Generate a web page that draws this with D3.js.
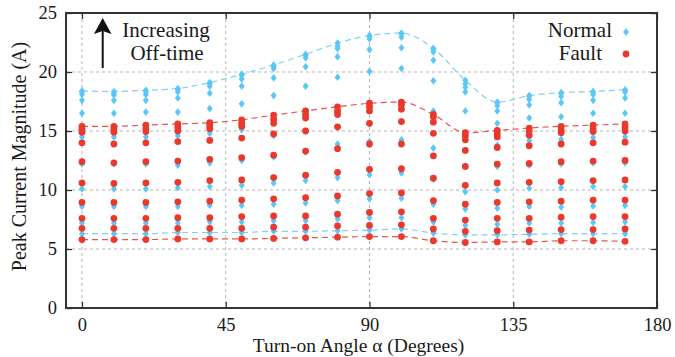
<!DOCTYPE html>
<html>
<head>
<meta charset="utf-8">
<script src="https://cdn.jsdelivr.net/npm/d3@7"></script>
<style>
  html, body { margin: 0; padding: 0; background: #fff; }
  svg { display: block; }
  text { font-family: "Liberation Serif", "Times New Roman", serif; fill: #1a1a1a; }
</style>
</head>
<body>
<svg id="chart" width="675" height="357"></svg>
<script>
// ---- Data ----
const angles = [0, 10, 20, 30, 40, 50, 60, 70, 80, 90, 100, 110, 120, 130, 140, 150, 160, 170];

const normalValues = [
  [18.4, 18.3, 18.1, 17.6, 16.5, 14.5, 12.2, 10.1, 8.6, 7.2, 6.3],
  [18.35, 18.2, 18.05, 17.6, 16.5, 14.5, 12.2, 10.1, 8.6, 7.2, 6.3],
  [18.45, 18.3, 18.1, 17.6, 16.6, 14.5, 12.2, 10.1, 8.6, 7.2, 6.3],
  [18.6, 18.5, 18.3, 17.8, 16.6, 14.6, 12.1, 10.2, 8.6, 7.2, 6.4],
  [19.1, 19.0, 18.8, 18.2, 16.9, 14.8, 12.3, 10.3, 8.7, 7.3, 6.4],
  [19.8, 19.7, 19.4, 18.8, 17.3, 15.1, 12.5, 10.4, 8.7, 7.3, 6.4],
  [20.6, 20.5, 20.3, 19.5, 18.0, 14.6, 12.8, 10.6, 8.8, 7.4, 6.5],
  [21.5, 21.4, 21.2, 20.45, 18.8, 15.0, 13.2, 10.8, 8.9, 7.4, 6.5],
  [22.45, 22.2, 22.0, 21.3, 19.55, 15.3, 13.9, 11.05, 9.1, 7.55, 6.55],
  [23.1, 23.0, 22.8, 21.9, 20.05, 15.6, 14.1, 11.3, 9.25, 7.65, 6.6],
  [23.3, 23.2, 22.95, 22.05, 20.3, 15.8, 14.25, 11.45, 9.3, 7.65, 6.7],
  [22.0, 21.9, 21.7, 21.0, 19.25, 16.7, 13.55, 10.9, 8.8, 7.3, 6.35],
  [19.3, 19.0, 18.7, 18.3, 16.7, 14.3, 12.0, 9.85, 8.4, 7.0, 6.2],
  [17.45, 17.4, 17.15, 16.7, 15.65, 13.8, 12.0, 10.0, 8.45, 7.1, 6.2],
  [18.0, 17.95, 17.7, 17.2, 16.1, 14.2, 12.1, 10.15, 8.6, 7.2, 6.25],
  [18.25, 18.2, 17.95, 17.4, 16.2, 14.3, 12.2, 10.2, 8.55, 7.2, 6.3],
  [18.35, 18.3, 18.1, 17.6, 16.5, 14.45, 12.3, 10.3, 8.65, 7.25, 6.3],
  [18.5, 18.45, 18.3, 17.8, 16.5, 14.5, 12.3, 10.3, 8.7, 7.3, 6.3]
];

const faultValues = [
  [15.4, 15.15, 14.9, 14.0, 12.4, 10.6, 8.95, 7.6, 6.75, 5.8],
  [15.4, 15.15, 14.9, 13.9, 12.3, 10.55, 8.95, 7.6, 6.75, 5.8],
  [15.5, 15.2, 14.95, 14.0, 12.4, 10.6, 8.95, 7.6, 6.75, 5.8],
  [15.6, 15.3, 15.0, 14.1, 12.45, 10.65, 9.0, 7.65, 6.75, 5.85],
  [15.7, 15.45, 15.2, 14.2, 12.6, 10.8, 9.05, 7.65, 6.75, 5.85],
  [15.95, 15.65, 15.4, 14.4, 12.75, 10.85, 9.15, 7.75, 6.75, 5.85],
  [16.35, 16.0, 15.65, 14.75, 12.95, 11.05, 9.25, 7.8, 6.85, 5.9],
  [16.7, 16.4, 16.1, 15.0, 13.3, 11.25, 9.35, 7.8, 6.85, 5.95],
  [17.05, 16.7, 16.4, 15.35, 13.5, 11.5, 9.5, 7.95, 6.95, 6.0],
  [17.35, 17.05, 16.7, 15.65, 13.9, 11.75, 9.7, 8.1, 7.0, 6.05],
  [17.45, 17.2, 16.85, 15.8, 13.9, 11.8, 9.75, 8.15, 7.05, 6.05],
  [16.4, 16.2, 15.75, 14.8, 12.9, 11.0, 9.1, 7.6, 6.7, 5.7],
  [14.85, 14.6, 14.25, 13.35, 12.0, 10.4, 8.8, 7.45, 6.5, 5.55],
  [15.05, 14.75, 14.5, 13.6, 12.2, 10.6, 8.95, 7.6, 6.55, 5.6],
  [15.25, 15.0, 14.65, 13.75, 12.25, 10.65, 9.0, 7.6, 6.6, 5.6],
  [15.4, 15.1, 14.85, 13.9, 12.4, 10.7, 9.05, 7.7, 6.65, 5.7],
  [15.5, 15.2, 14.95, 14.0, 12.45, 10.8, 9.15, 7.75, 6.65, 5.7],
  [15.6, 15.3, 15.0, 14.05, 12.5, 10.85, 9.15, 7.75, 6.7, 5.65]
];

const xTicks = [0, 45, 90, 135, 180];
const yTicks = [0, 5, 10, 15, 20, 25];
const seriesNames = ["Normal", "Fault"];
const xTitle = "Turn-on Angle \u03b1 (Degrees)";
const yTitle = "Peak Current Magnitude (A)";
const annotation = ["Increasing", "Off-time"];

// ---- Layout ----
const plot = { left: 66, right: 657, top: 13, bottom: 308 };
const blue = "#5ec6f2", red = "#e8392e";
const blueLine = "#7fd0f2", redLine = "#e8554a";

const svg = d3.select("#chart");
const x = d3.scaleLinear().domain([-5, 180]).range([plot.left, plot.right]);
const y = d3.scaleLinear().domain([0, 25]).range([plot.bottom, plot.top]);

// grid
const grid = svg.append("g");
grid.selectAll("line.gx").data(xTicks.filter(t => t < 180)).join("line")
  .attr("x1", d => x(d)).attr("x2", d => x(d))
  .attr("y1", plot.top).attr("y2", plot.bottom)
  .attr("stroke", "#b5b5b5").attr("stroke-width", 1).attr("stroke-dasharray", "3,3");
grid.selectAll("line.gy").data(yTicks.filter(t => t > 0 && t < 25)).join("line")
  .attr("x1", plot.left).attr("x2", plot.right)
  .attr("y1", d => y(d)).attr("y2", d => y(d))
  .attr("stroke", "#b5b5b5").attr("stroke-width", 1).attr("stroke-dasharray", "3,3");

// axes with inward ticks (mirrored)
const tickLen = 6;
const axB = svg.append("g").attr("transform", `translate(0,${plot.bottom})`)
  .call(d3.axisBottom(x).tickValues(xTicks).tickSize(-tickLen).tickPadding(10).tickFormat(d3.format("d")));
const axT = svg.append("g").attr("transform", `translate(0,${plot.top})`)
  .call(d3.axisTop(x).tickValues(xTicks).tickSize(-tickLen).tickFormat(""));
const axL = svg.append("g").attr("transform", `translate(${plot.left},0)`)
  .call(d3.axisLeft(y).tickValues(yTicks).tickSize(-tickLen).tickPadding(8).tickFormat(d3.format("d")));
const axR = svg.append("g").attr("transform", `translate(${plot.right},0)`)
  .call(d3.axisRight(y).tickValues(yTicks).tickSize(-tickLen).tickFormat(""));
[axB, axT, axL, axR].forEach(a => {
  a.select(".domain").remove();
  a.selectAll(".tick line").attr("stroke", "#333").attr("stroke-width", 1.3);
  a.selectAll("text").style("font-family", "'Liberation Serif', serif").style("font-size", "18.5px").attr("fill", "#1a1a1a");
});
axL.selectAll("text").attr("dx", "-1");

// frame
svg.append("rect").attr("x", plot.left).attr("y", plot.top)
  .attr("width", plot.right - plot.left).attr("height", plot.bottom - plot.top)
  .attr("fill", "none").attr("stroke", "#333").attr("stroke-width", 2);

// envelope lines
const line = d3.line().x(d => x(d[0])).y(d => y(d[1])).curve(d3.curveMonotoneX);
const env = (vals, f) => angles.map((a, i) => [a, f(vals[i])]);
const lines = [
  { pts: env(normalValues, d3.max), c: blueLine },
  { pts: env(normalValues, d3.min), c: blueLine },
  { pts: env(faultValues, d3.max), c: redLine },
  { pts: env(faultValues, d3.min), c: redLine }
];
svg.append("g").selectAll("path").data(lines).join("path")
  .attr("d", d => line(d.pts)).attr("fill", "none")
  .attr("stroke", d => d.c).attr("stroke-width", 1.2).attr("stroke-dasharray", "6,4");

// diamond symbol
const diamond = {
  draw(ctx, size) {
    const a = Math.sqrt(size) / 2;
    ctx.moveTo(0, -a * 1.15); ctx.lineTo(a * 0.9, 0); ctx.lineTo(0, a * 1.15); ctx.lineTo(-a * 0.9, 0); ctx.closePath();
  }
};
const normalPts = [], faultPts = [];
angles.forEach((a, i) => {
  normalValues[i].forEach(v => normalPts.push([a, v]));
  faultValues[i].forEach(v => faultPts.push([a, v]));
});
svg.append("g").selectAll("path").data(normalPts).join("path")
  .attr("d", d3.symbol(diamond, 44)).attr("transform", d => `translate(${x(d[0])},${y(d[1])})`)
  .attr("fill", blue);
svg.append("g").selectAll("circle").data(faultPts).join("circle")
  .attr("cx", d => x(d[0])).attr("cy", d => y(d[1])).attr("r", 3.4).attr("fill", red);

// legend
const lg = svg.append("g");
lg.append("text").attr("x", 612).attr("y", 37).attr("text-anchor", "end").style("font-size", "21px").text(seriesNames[0]);
lg.append("path").attr("d", d3.symbol(diamond, 44)).attr("transform", "translate(626,32)").attr("fill", blue);
lg.append("text").attr("x", 602).attr("y", 60).attr("text-anchor", "end").style("font-size", "21px").text(seriesNames[1]);
lg.append("circle").attr("cx", 626).attr("cy", 54).attr("r", 3.4).attr("fill", red);

// annotation arrow
const an = svg.append("g");
an.append("line").attr("x1", 102.7).attr("x2", 102.7).attr("y1", 68).attr("y2", 30)
  .attr("stroke", "#111").attr("stroke-width", 2);
an.append("path").attr("d", "M102.7,18 L111.5,34 L102.7,31 L93.9,34 Z").attr("fill", "#111");
an.append("text").attr("x", 166).attr("y", 37).attr("text-anchor", "middle").style("font-size", "21px").text(annotation[0]);
an.append("text").attr("x", 167).attr("y", 60).attr("text-anchor", "middle").style("font-size", "21px").text(annotation[1]);

// axis titles
svg.append("text").attr("x", (plot.left + plot.right) / 2 - 3).attr("y", 352)
  .attr("text-anchor", "middle").style("font-size", "19.5px").text(xTitle);
svg.append("text").attr("transform", `translate(26,${(plot.top + plot.bottom) / 2 - 4}) rotate(-90)`)
  .attr("text-anchor", "middle").style("font-size", "20px").text(yTitle);
</script>
</body>
</html>
